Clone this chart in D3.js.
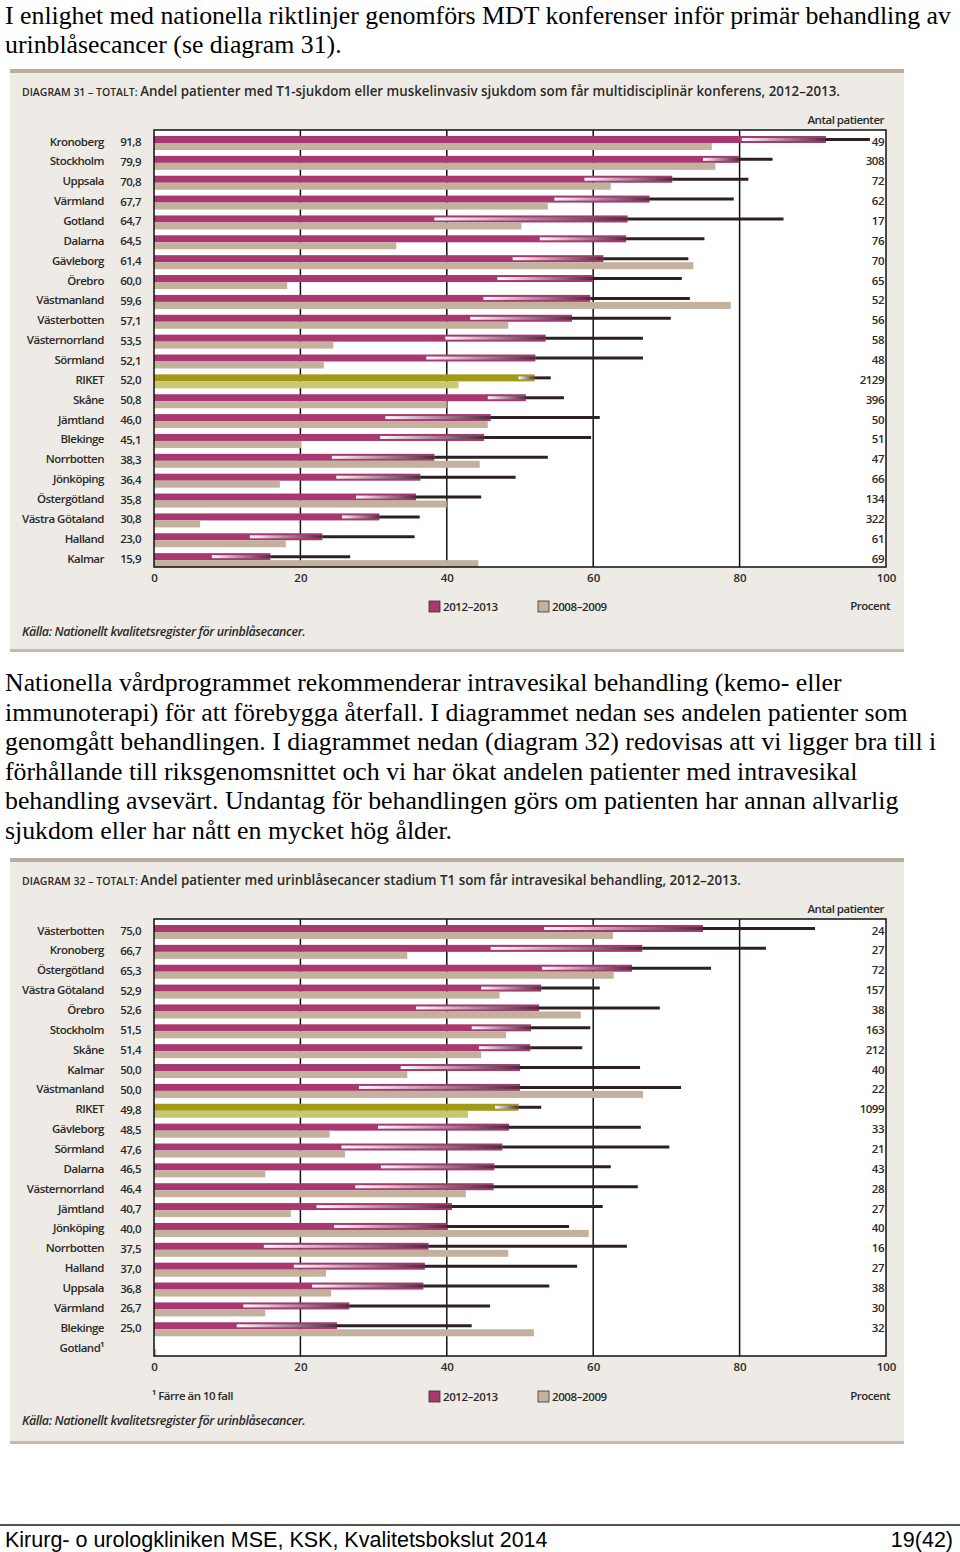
<!DOCTYPE html>
<html>
<head>
<meta charset="utf-8">
<script src="https://cdn.jsdelivr.net/npm/d3@7"></script>
<style>
  body { margin: 0; background: #fff; }
  svg { display: block; }
</style>
</head>
<body>
<div id="page"></div>
<script>
// diagram 31 - MDT konferens
const regions31 = ["Kronoberg", "Stockholm", "Uppsala", "Värmland", "Gotland", "Dalarna", "Gävleborg", "Örebro", "Västmanland", "Västerbotten", "Västernorrland", "Sörmland", "RIKET", "Skåne", "Jämtland", "Blekinge", "Norrbotten", "Jönköping", "Östergötland", "Västra Götaland", "Halland", "Kalmar"];
const pct31 = [91.8, 79.9, 70.8, 67.7, 64.7, 64.5, 61.4, 60.0, 59.6, 57.1, 53.5, 52.1, 52.0, 50.8, 46.0, 45.1, 38.3, 36.4, 35.8, 30.8, 23.0, 15.9];
const old31 = [76.2, 76.7, 62.4, 53.8, 50.2, 33.1, 73.7, 18.2, 78.8, 48.4, 24.5, 23.2, 41.6, 40.0, 45.6, 20.1, 44.5, 17.2, 40.0, 6.3, 18.0, 44.3];
const lo31 = [80.3, 75.0, 58.8, 54.7, 38.3, 52.7, 49.0, 46.9, 45.0, 43.2, 39.8, 37.2, 49.8, 45.6, 31.6, 30.9, 24.3, 24.9, 27.6, 25.7, 13.1, 7.9];
const hi31 = [97.8, 84.5, 81.2, 79.2, 86.0, 75.2, 73.0, 72.1, 73.2, 70.6, 66.8, 66.8, 54.2, 56.0, 60.9, 59.7, 53.8, 49.4, 44.7, 36.3, 35.6, 26.8];
const n31 = [49, 308, 72, 62, 17, 76, 70, 65, 52, 56, 58, 48, 2129, 396, 50, 51, 47, 66, 134, 322, 61, 69];

// diagram 32 - intravesikal behandling
const regions32 = ["Västerbotten", "Kronoberg", "Östergötland", "Västra Götaland", "Örebro", "Stockholm", "Skåne", "Kalmar", "Västmanland", "RIKET", "Gävleborg", "Sörmland", "Dalarna", "Västernorrland", "Jämtland", "Jönköping", "Norrbotten", "Halland", "Uppsala", "Värmland", "Blekinge", "Gotland¹"];
const pct32 = [75.0, 66.7, 65.3, 52.9, 52.6, 51.5, 51.4, 50.0, 50.0, 49.8, 48.5, 47.6, 46.5, 46.4, 40.7, 40.0, 37.5, 37.0, 36.8, 26.7, 25.0, null];
const old32 = [62.7, 34.6, 62.8, 47.2, 58.3, 48.1, 44.7, 34.6, 66.8, 42.9, 24.0, 26.1, 15.2, 42.6, 18.7, 59.4, 48.4, 23.5, 24.2, 15.2, 51.9, 0.3];
const lo32 = [53.3, 46.0, 53.0, 44.7, 35.8, 43.4, 44.4, 33.7, 28.0, 46.6, 30.6, 25.6, 31.0, 27.5, 22.2, 24.6, 15.0, 19.1, 21.6, 12.2, 11.3, null];
const hi32 = [90.3, 83.6, 76.1, 60.9, 69.1, 59.6, 58.5, 66.4, 72.0, 52.9, 66.5, 70.4, 62.4, 66.1, 61.3, 56.7, 64.6, 57.8, 54.0, 45.9, 43.4, null];
const n32 = [24, 27, 72, 157, 38, 163, 212, 40, 22, 1099, 33, 21, 43, 28, 27, 40, 16, 27, 38, 30, 32, null];

const xTicks = [0, 20, 40, 60, 80, 100];
const seriesNames = ["2012–2013", "2008–2009"];

const W = 960, H = 1552;
const svg = d3.select('#page').append('svg')
  .attr('width', W)
  .attr('height', H);

svg.append('rect').attr('width', W).attr('height', H).attr('fill', '#fff');

const defs = svg.append('defs');
const grad = defs.append('linearGradient').attr('id', 'ci');
grad.append('stop').attr('offset', '0%').attr('stop-color', '#ffffff');
grad.append('stop').attr('offset', '45%').attr('stop-color', '#b595a8');
grad.append('stop').attr('offset', '100%').attr('stop-color', '#4a2c3c');

const serif = '"Liberation Serif", "Times New Roman", serif';
const sans = '"Open Sans", "Noto Sans", sans-serif';

function para(lines, y0) {
  svg.append('g').selectAll('text')
    .data(lines)
    .enter()
    .append('text')
    .attr('x', 5)
    .attr('y', (d, i) => y0 + i * 29.6)
    .attr('font-family', serif)
    .attr('font-size', 25.8)
    .attr('fill', '#000')
    .text(d => d);
}

para([
  "I enlighet med nationella riktlinjer genomförs MDT konferenser inför primär behandling av",
  "urinblåsecancer (se diagram 31)."
], 23.5);

para([
  "Nationella vårdprogrammet rekommenderar intravesikal behandling (kemo- eller",
  "immunoterapi) för att förebygga återfall. I diagrammet nedan ses andelen patienter som",
  "genomgått behandlingen. I diagrammet nedan (diagram 32) redovisas att vi ligger bra till i",
  "förhållande till riksgenomsnittet och vi har ökat andelen patienter med intravesikal",
  "behandling avsevärt. Undantag för behandlingen görs om patienten har annan allvarlig",
  "sjukdom eller har nått en mycket hög ålder."
], 691);

function drawChart(cfg) {
  const g = svg.append('g');
  const rows = cfg.regions.map((r, i) => ({
    name: r, pct: cfg.pct[i], old: cfg.old[i], lo: cfg.lo[i], hi: cfg.hi[i], n: cfg.n[i]
  }));

  // panel
  g.append('rect')
    .attr('x', 10).attr('y', cfg.top)
    .attr('width', 894).attr('height', cfg.bottom - cfg.top)
    .attr('fill', '#eeeae5');
  g.append('rect')
    .attr('x', 10).attr('y', cfg.top)
    .attr('width', 894).attr('height', 4)
    .attr('fill', '#b9ad9e');
  g.append('rect')
    .attr('x', 10).attr('y', cfg.bottom - 3)
    .attr('width', 894).attr('height', 3)
    .attr('fill', '#c9b9aa');

  // title
  const title = g.append('text')
    .attr('x', 22).attr('y', cfg.top + 27)
    .attr('font-family', sans)
    .attr('font-size', 14)
    .attr('font-weight', 600)
    .attr('fill', '#2a2a2a')
    .attr('textLength', cfg.titleWidth)
    .attr('lengthAdjust', 'spacingAndGlyphs');
  title.append('tspan').attr('font-size', 11).text(cfg.titleHead);
  title.append('tspan').text(cfg.titleBody);

  const x = d3.scaleLinear().domain([0, 100]).range([154, 886]);
  const y = d3.scaleBand().domain(rows.map(d => d.name)).range([cfg.plotTop, cfg.plotBottom]);
  const off = 6, bh = 7;

  // plot area
  g.append('rect')
    .attr('x', x(0)).attr('y', cfg.plotTop)
    .attr('width', x(100) - x(0)).attr('height', cfg.plotBottom - cfg.plotTop)
    .attr('fill', '#fff');

  g.append('g').selectAll('line')
    .data(xTicks.slice(1, -1))
    .enter()
    .append('line')
    .attr('x1', d => x(d)).attr('x2', d => x(d))
    .attr('y1', cfg.plotTop).attr('y2', cfg.plotBottom)
    .attr('stroke', '#111').attr('stroke-width', 1.5);

  const row = g.append('g').selectAll('g')
    .data(rows)
    .enter()
    .append('g')
    .attr('transform', d => `translate(0,${y(d.name) + off})`);

  row.filter(d => d.pct != null).append('rect')
    .attr('x', x(0)).attr('y', 0)
    .attr('width', d => x(d.pct) - x(0)).attr('height', bh)
    .attr('fill', d => d.name === 'RIKET' ? '#a09a16' : '#a8386f');

  row.filter(d => d.old != null).append('rect')
    .attr('x', x(0)).attr('y', bh)
    .attr('width', d => x(d.old) - x(0)).attr('height', bh)
    .attr('fill', d => d.name === 'RIKET' ? '#c9c770' : '#c4b19d');

  row.filter(d => d.lo != null).append('rect')
    .attr('x', d => x(d.lo)).attr('y', 2)
    .attr('width', d => x(d.pct) - x(d.lo)).attr('height', 3)
    .attr('fill', 'url(#ci)');

  row.filter(d => d.hi != null).append('line')
    .attr('x1', d => x(d.pct)).attr('x2', d => x(d.hi))
    .attr('y1', 3.5).attr('y2', 3.5)
    .attr('stroke', '#2e2020').attr('stroke-width', 3);

  // frame on top
  g.append('rect')
    .attr('x', x(0)).attr('y', cfg.plotTop)
    .attr('width', x(100) - x(0)).attr('height', cfg.plotBottom - cfg.plotTop)
    .attr('fill', 'none').attr('stroke', '#111').attr('stroke-width', 1.5);

  const lab = g.append('g')
    .attr('font-family', sans)
    .attr('font-size', 11.5)
    .attr('font-weight', 600)
    .attr('letter-spacing', -0.5)
    .attr('fill', '#2a2a2a');

  lab.selectAll('.name')
    .data(rows)
    .enter()
    .append('text')
    .attr('class', 'name')
    .attr('x', 104)
    .attr('y', d => y(d.name) + off + 9.5)
    .attr('text-anchor', 'end')
    .text(d => d.name);

  lab.selectAll('.val')
    .data(rows.filter(d => d.pct != null))
    .enter()
    .append('text')
    .attr('class', 'val')
    .attr('x', 141)
    .attr('y', d => y(d.name) + off + 10)
    .attr('text-anchor', 'end')
    .text(d => d3.format('.1f')(d.pct).replace('.', ','));

  lab.selectAll('.n')
    .data(rows.filter(d => d.n != null))
    .enter()
    .append('text')
    .attr('class', 'n')
    .attr('x', 884)
    .attr('y', d => y(d.name) + off + 9.5)
    .attr('text-anchor', 'end')
    .text(d => d.n);

  lab.append('text')
    .attr('x', 884).attr('y', cfg.plotTop - 6)
    .attr('text-anchor', 'end')
    .text('Antal patienter');

  // x axis labels
  const axis = d3.axisBottom(x).tickValues(xTicks).tickSize(0).tickPadding(0);
  const ax = g.append('g')
    .attr('transform', `translate(0,${cfg.plotBottom + 7})`)
    .call(axis);
  ax.select('.domain').remove();
  ax.selectAll('text')
    .attr('font-family', sans)
    .attr('font-size', 11.5)
    .attr('font-weight', 600)
    .attr('fill', '#2a2a2a');

  // legend
  const leg = g.append('g').selectAll('g')
    .data(seriesNames)
    .enter()
    .append('g')
    .attr('transform', (d, i) => `translate(${429 + i * 109},${cfg.legendY - 6})`);
  leg.append('rect')
    .attr('width', 11).attr('height', 11)
    .attr('fill', (d, i) => i === 0 ? '#a8386f' : '#c4b19d')
    .attr('stroke', '#333').attr('stroke-width', 0.8);
  leg.append('text')
    .attr('x', 14).attr('y', 10)
    .attr('font-family', sans).attr('font-size', 11.5).attr('font-weight', 600)
    .attr('letter-spacing', -0.4).attr('fill', '#2a2a2a')
    .text(d => d);

  lab.append('text')
    .attr('x', 890).attr('y', cfg.legendY + 3)
    .attr('text-anchor', 'end')
    .text('Procent');

  if (cfg.note) {
    lab.append('text')
      .attr('x', 152).attr('y', cfg.legendY + 3)
      .text(cfg.note);
  }

  g.append('text')
    .attr('x', 22).attr('y', cfg.sourceY)
    .attr('font-family', sans)
    .attr('font-size', 12.5)
    .attr('font-weight', 600)
    .attr('font-style', 'italic')
    .attr('letter-spacing', -0.4)
    .attr('fill', '#2a2a2a')
    .text('Källa: Nationellt kvalitetsregister för urinblåsecancer.');
}

drawChart({
  regions: regions31, pct: pct31, old: old31, lo: lo31, hi: hi31, n: n31,
  top: 69, bottom: 652, plotTop: 130, plotBottom: 567,
  legendY: 607, sourceY: 636,
  titleHead: 'DIAGRAM 31 – TOTALT: ',
  titleBody: 'Andel patienter med T1-sjukdom eller muskelinvasiv sjukdom som får multidisciplinär konferens, 2012–2013.',
  titleWidth: 818
});

drawChart({
  regions: regions32, pct: pct32, old: old32, lo: lo32, hi: hi32, n: n32,
  top: 858, bottom: 1444, plotTop: 919, plotBottom: 1356,
  legendY: 1397, sourceY: 1425,
  titleHead: 'DIAGRAM 32 – TOTALT: ',
  titleBody: 'Andel patienter med urinblåsecancer stadium T1 som får intravesikal behandling, 2012–2013.',
  titleWidth: 719,
  note: '¹ Färre än 10 fall'
});

// footer
svg.append('line')
  .attr('x1', 0).attr('x2', W)
  .attr('y1', 1525).attr('y2', 1525)
  .attr('stroke', '#555').attr('stroke-width', 2);

svg.append('text')
  .attr('x', 5).attr('y', 1547)
  .attr('font-family', '"Liberation Sans", Arial, sans-serif')
  .attr('font-size', 21.5)
  .text('Kirurg- o urologkliniken MSE, KSK, Kvalitetsbokslut 2014');

svg.append('text')
  .attr('x', 953).attr('y', 1547)
  .attr('text-anchor', 'end')
  .attr('font-family', '"Liberation Sans", Arial, sans-serif')
  .attr('font-size', 21.5)
  .text('19(42)');
</script>
</body>
</html>
